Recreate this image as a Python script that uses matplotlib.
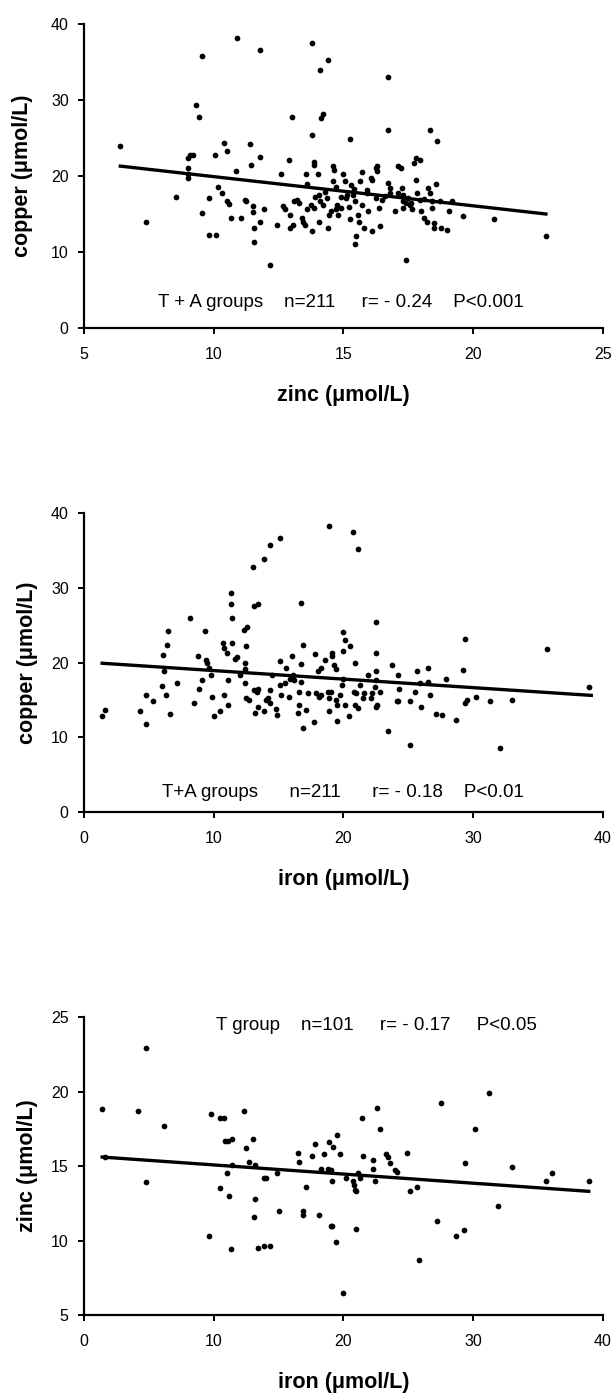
import matplotlib
matplotlib.use("Agg")
import matplotlib.pyplot as plt

plt.rcParams['font.family'] = ['Liberation Sans', 'DejaVu Sans']

# ---------------- Panel 1: zinc vs copper (T + A groups) ----------------
zinc1 = [6.40, 7.40, 8.55, 9.0, 9.1, 9.2, 9.0, 9.0, 9.0, 9.3, 9.45, 9.55, 9.55, 9.8, 9.8, 10.1,
         10.05, 10.15, 10.3, 10.4, 10.5, 10.5, 10.6, 10.65, 10.85, 10.9, 11.05, 11.2, 11.25, 11.4,
         11.45, 11.5, 11.5, 11.55, 11.55, 11.8, 11.8, 11.8, 11.95, 12.15, 12.45, 12.6, 12.65, 12.75,
         12.9, 12.95, 12.95, 13.05, 13.0, 13.1, 13.2, 13.4, 13.45, 13.5, 13.55, 13.6, 13.75, 13.8,
         13.8, 13.8, 13.85, 13.85, 13.85, 14.0, 14.05, 14.05, 14.1, 14.1, 14.15, 14.2, 14.3, 14.35,
         14.4, 14.4, 14.45, 14.5, 14.6, 14.65, 14.6, 14.7, 14.75, 14.8, 14.9, 15.0, 15.05, 15.1,
         15.15, 15.25, 15.25, 15.3, 15.35, 15.45, 15.45, 15.5, 15.55, 15.6, 15.65, 15.7, 15.7, 15.8,
         15.9, 15.95, 16.05, 16.1, 16.1, 16.25, 16.3, 16.3, 16.25, 16.35, 16.4, 16.7, 16.7, 16.7,
         16.8, 16.8, 17.0, 17.1, 17.2, 17.25, 17.3, 17.3, 17.3, 17.4, 17.5, 17.55, 17.65, 17.7,
         17.8, 17.95, 17.8, 17.85, 17.95, 18.0, 18.1, 18.2, 18.25, 18.35, 18.35, 18.4, 18.4, 18.5,
         18.5, 18.55, 18.6, 18.7, 18.75, 19.0, 19.05, 19.2, 19.6, 20.8, 22.8,
         13.3, 13.6, 14.2, 14.9, 15.2, 15.9, 16.5, 17.1, 17.6, 18.1, 13.9, 14.7, 15.4, 16.6, 17.4]
copper1 = [23.9, 13.95, 17.3, 22.4, 22.8, 22.8, 21.0, 20.2, 19.7, 29.4, 27.8, 35.8, 15.1, 17.1, 12.3, 12.3,
           22.7, 18.6, 17.8, 24.3, 23.3, 16.7, 16.3, 14.5, 20.7, 38.2, 14.5, 16.9, 16.7, 24.2,
           21.5, 16.0, 15.3, 13.2, 11.3, 22.5, 36.6, 14.0, 15.7, 8.3, 13.5, 20.2, 16.1, 15.6,
           22.1, 14.9, 13.2, 13.6, 27.8, 16.7, 16.9, 14.5, 14.0, 13.5, 20.2, 18.9, 16.2, 25.4,
           12.7, 37.5, 21.5, 21.8, 15.8, 20.2, 14.0, 17.5, 16.7, 34.0, 27.6, 28.1, 17.9, 17.1,
           35.3, 13.1, 14.9, 15.4, 21.3, 20.8, 19.3, 18.6, 16.2, 14.9, 15.8, 20.2, 19.3, 17.1,
           17.5, 24.9, 14.3, 18.8, 17.5, 16.7, 11.0, 12.1, 14.9, 14.0, 19.3, 20.5, 16.2, 13.2,
           17.7, 15.4, 19.7, 19.5, 12.8, 21.1, 20.6, 21.3, 17.1, 15.8, 13.4, 26.1, 33.0, 19.1,
           18.4, 17.8, 15.4, 21.3, 21.1, 18.4, 17.5, 16.7, 15.8, 8.9, 17.1, 16.2, 15.6, 21.7,
           22.4, 22.1, 19.5, 17.8, 16.9, 15.4, 14.5, 14.0, 18.4, 17.8, 26.1, 16.7, 15.8, 13.2,
           13.8, 18.9, 24.6, 16.7, 13.2, 12.9, 15.4, 16.7, 14.8, 14.3, 12.1,
           16.4, 15.6, 16.2, 17.3, 15.9, 18.1, 16.9, 17.8, 16.4, 17.0, 17.2, 15.6, 18.3, 17.4, 16.5]
line1_x = [6.4, 22.8]
line1_y = [21.3, 15.0]
label1 = "T + A groups    n=211     r= - 0.24    P<0.001"

# ---------------- Panel 2: iron vs copper (T + A groups) ----------------
iron2 = [1.4, 1.65, 4.3, 4.8, 4.8, 5.3, 6.0, 6.1, 6.4, 6.5, 6.2, 6.3, 6.6, 7.2, 8.2, 8.5, 8.8, 8.9,
         9.1, 9.3, 9.4, 9.5, 9.6, 9.8, 9.9, 10.0, 10.5, 10.7, 10.8, 11.0, 10.8, 11.1, 11.1, 11.3,
         11.3, 11.4, 11.4, 11.6, 11.8, 12.0, 12.3, 12.6, 12.5, 12.4, 12.5, 12.7, 12.4, 12.4, 13.0,
         13.1, 13.4, 13.1, 13.3, 13.4, 13.2, 13.4, 13.9, 13.9, 14.0, 14.2, 14.3, 14.3, 14.3, 14.5,
         14.8, 14.9, 15.1, 15.1, 15.2, 15.1, 15.5, 15.6, 15.8, 16.0, 15.9, 16.1, 16.2, 16.5, 16.6,
         16.6, 16.7, 16.7, 16.7, 16.9, 16.9, 17.1, 17.3, 17.7, 17.8, 17.9, 18.1, 18.3, 18.0, 18.3,
         18.6, 18.8, 18.9, 19.0, 18.9, 18.9, 19.1, 19.1, 19.3, 19.4, 19.4, 19.5, 19.5, 19.7, 19.9,
         20.0, 20.0, 20.1, 20.0, 20.1, 20.4, 20.5, 20.7, 20.8, 21.0, 20.9, 20.9, 21.1, 21.1, 21.3,
         21.5, 21.6, 21.9, 22.1, 22.2, 22.4, 22.5, 22.5, 22.5, 22.5, 22.5, 22.6, 22.8, 23.4, 23.7,
         24.1, 24.2, 24.2, 24.3, 25.1, 25.1, 25.5, 25.7, 25.9, 26.0, 26.5, 26.5, 26.7, 27.1, 27.6,
         27.9, 28.7, 29.2, 29.4, 29.4, 29.5, 30.2, 31.3, 32.1, 33.0, 35.7, 38.9]
copper2 = [12.8, 13.7, 13.5, 15.7, 11.8, 14.9, 16.9, 21.0, 22.3, 24.2, 18.9, 15.7, 13.1, 17.3, 26.0,
           14.6, 20.9, 16.4, 17.6, 24.2, 20.3, 20.0, 19.3, 18.3, 15.4, 12.8, 13.5, 22.6, 21.9, 21.3,
           15.7, 17.6, 14.3, 29.3, 27.8, 25.9, 22.6, 20.5, 20.7, 18.3, 24.3, 24.8, 22.2, 17.2, 15.2,
           15.0, 20.0, 19.1, 32.8, 27.5, 27.8, 16.3, 16.1, 16.5, 13.3, 14.1, 13.5, 33.9, 15.0, 15.2,
           14.6, 35.7, 16.3, 18.3, 13.8, 13.0, 20.2, 17.0, 15.7, 36.6, 17.2, 19.3, 15.4, 20.9, 17.8,
           18.3, 17.6, 13.3, 14.3, 16.1, 17.4, 19.8, 27.9, 22.4, 11.3, 13.7, 15.9, 12.0, 21.1, 15.9,
           15.4, 15.7, 18.9, 19.3, 20.4, 16.1, 15.2, 16.0, 38.3, 13.5, 21.3, 20.9, 19.6, 19.1, 15.0,
           12.2, 14.3, 15.7, 17.0, 17.8, 24.1, 23.0, 21.5, 14.3, 12.8, 22.2, 37.5, 16.1, 15.9, 20.0,
           14.3, 13.9, 35.2, 17.0, 15.2, 15.9, 18.3, 15.2, 15.9, 16.7, 17.6, 25.4, 21.3, 18.9, 14.1,
           14.3, 16.1, 10.9, 19.6, 14.8, 14.8, 18.3, 16.5, 14.8, 8.9, 16.1, 18.9, 17.2, 14.1, 19.3,
           17.4, 15.7, 13.1, 13.0, 17.8, 12.3, 19.0, 23.2, 14.6, 15.0, 15.4, 14.9, 8.5, 15.0, 21.8,
           16.7]
line2_x = [1.4, 39.1]
line2_y = [19.9, 15.6]
label2 = "T+A groups      n=211      r= - 0.18    P<0.01"

# ---------------- Panel 3: iron vs zinc (T group) ----------------
iron3 = [1.4, 1.6, 4.2, 4.8, 4.8, 6.2, 9.6, 9.8, 10.5, 10.8, 10.5, 10.9, 11.1, 11.4, 11.0, 11.2,
         11.3, 11.4, 12.3, 12.5, 12.7, 13.0, 13.2, 13.2, 13.1, 13.4, 13.9, 14.0, 13.9, 14.3, 14.9,
         15.0, 16.5, 16.6, 16.9, 16.9, 17.1, 17.6, 17.8, 18.1, 18.3, 18.5, 18.9, 19.2, 18.8, 19.0,
         19.0, 19.1, 19.1, 19.4, 19.5, 19.7, 20.0, 20.2, 20.7, 20.8, 20.9, 21.0, 21.1, 21.0, 21.3,
         21.4, 21.5, 22.3, 22.3, 22.4, 22.6, 22.8, 23.3, 23.4, 23.6, 24.0, 24.1, 24.9, 25.1, 25.7,
         25.8, 27.2, 27.5, 28.7, 29.3, 29.4, 30.1, 31.2, 31.9, 33.0, 35.6, 36.1, 38.9]
zinc3 = [18.8, 15.6, 18.7, 22.9, 13.9, 17.7, 10.3, 18.5, 18.2, 18.2, 13.5, 16.7, 16.7, 16.8, 14.5,
         13.0, 9.4, 15.1, 18.7, 16.2, 15.3, 16.8, 15.1, 12.8, 11.6, 9.5, 14.2, 14.2, 9.6, 9.6, 14.5,
         12.0, 15.9, 15.3, 11.7, 12.0, 13.6, 15.7, 16.5, 11.7, 14.8, 15.8, 16.6, 16.3, 14.8, 14.7,
         11.0, 11.0, 14.0, 9.9, 17.1, 15.8, 6.5, 14.2, 14.0, 13.7, 13.4, 13.3, 14.5, 10.8, 14.2,
         18.2, 15.7, 14.8, 15.4, 14.0, 18.9, 17.5, 15.8, 15.6, 15.2, 14.7, 14.6, 15.9, 13.3, 13.6,
         8.7, 11.3, 19.2, 10.3, 10.7, 15.2, 17.5, 19.9, 12.3, 14.9, 14.0, 14.5, 14.0]
line3_x = [1.4, 38.9]
line3_y = [15.6, 13.3]
label3 = "T group    n=101     r= - 0.17     P<0.05"

fig = plt.figure(figsize=(6.12, 13.94), dpi=100)

# panel rectangles in figure fractions [left, bottom, width, height]
rects = [
    [0.13725, 0.76471, 0.84804, 0.21807],
    [0.13725, 0.41750, 0.84804, 0.21449],
    [0.13725, 0.05667, 0.84804, 0.21377],
]

panels = [
    dict(x=zinc1, y=copper1, lx=line1_x, ly=line1_y, text=label1, tx=7.84, ty=3.3,
         xlim=(5, 25), xt=[5, 10, 15, 20, 25], ylim=(0, 40), yt=[0, 10, 20, 30, 40],
         xlabel="zinc (\u03bcmol/L)", ylabel="copper (\u03bcmol/L)", ypad=13),
    dict(x=iron2, y=copper2, lx=line2_x, ly=line2_y, text=label2, tx=5.98, ty=2.6,
         xlim=(0, 40), xt=[0, 10, 20, 30, 40], ylim=(0, 40), yt=[0, 10, 20, 30, 40],
         xlabel="iron (\u03bcmol/L)", ylabel="copper (\u03bcmol/L)", ypad=9),
    dict(x=iron3, y=zinc3, lx=line3_x, ly=line3_y, text=label3, tx=10.15, ty=24.4,
         xlim=(0, 40), xt=[0, 10, 20, 30, 40], ylim=(5, 25), yt=[5, 10, 15, 20, 25],
         xlabel="iron (\u03bcmol/L)", ylabel="zinc (\u03bcmol/L)", ypad=9),
]

for rect, p in zip(rects, panels):
    ax = fig.add_axes(rect)
    ax.scatter(p['x'], p['y'], s=17, c='black', marker='o', linewidths=0, clip_on=False, zorder=3)
    ax.plot(p['lx'], p['ly'], color='black', linewidth=2.4, zorder=4)
    ax.set_xlim(*p['xlim'])
    ax.set_ylim(*p['ylim'])
    ax.set_xticks(p['xt'])
    ax.set_yticks(p['yt'])
    for s in ['top', 'right']:
        ax.spines[s].set_visible(False)
    for s in ['left', 'bottom']:
        ax.spines[s].set_linewidth(1.6)
        ax.spines[s].set_color('black')
    ax.tick_params(direction='out', length=4.5, width=1.4, labelsize=11.5, colors='black')
    ax.tick_params(axis='x', pad=9.5)
    ax.tick_params(axis='y', pad=6.5)
    ax.set_xlabel(p['xlabel'], fontsize=15.5, fontweight='bold', labelpad=16)
    ax.set_ylabel(p['ylabel'], fontsize=15.5, fontweight='bold', labelpad=p['ypad'])
    ax.text(p['tx'], p['ty'], p['text'], ha='left', va='center', fontsize=13.5)

fig.savefig("out.png", dpi=100)
